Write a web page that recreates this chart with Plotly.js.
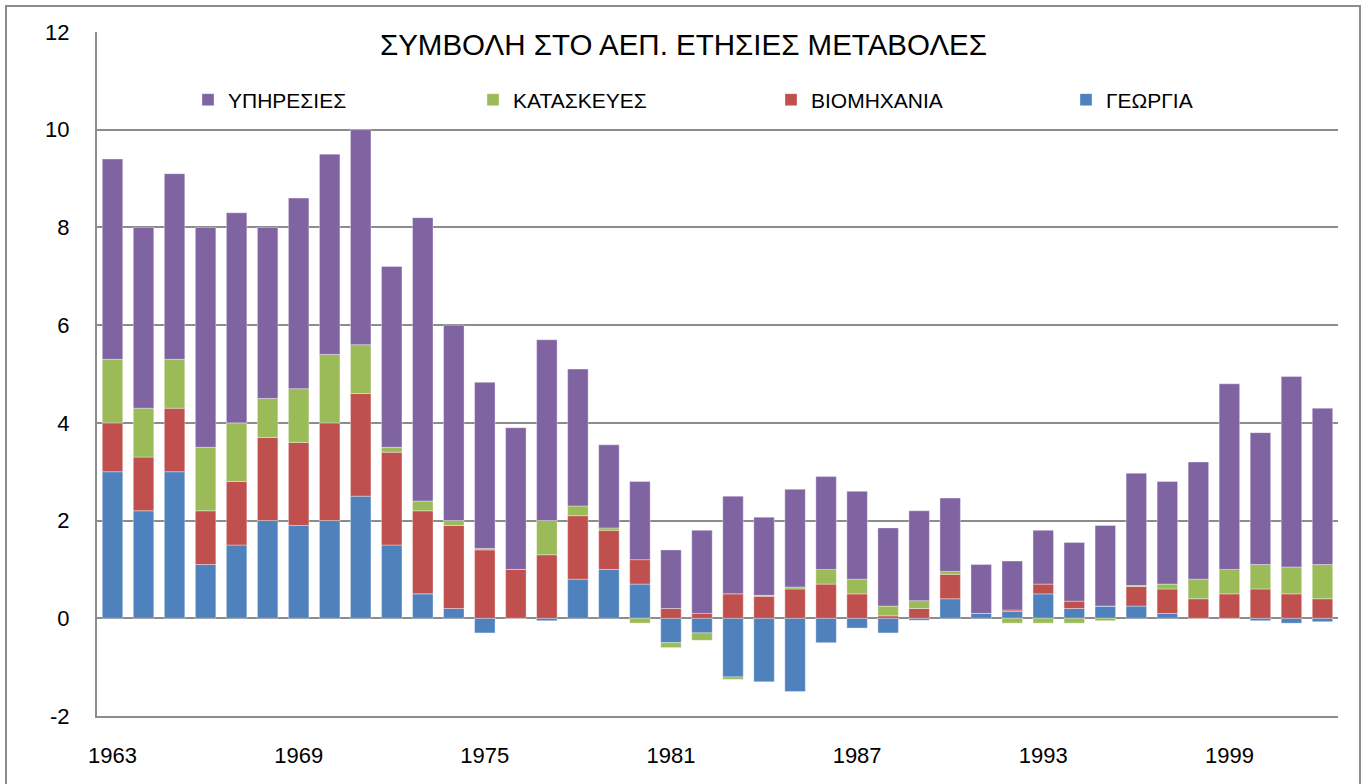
<!DOCTYPE html>
<html>
<head>
<meta charset="utf-8">
<script src="https://cdn.plot.ly/plotly-3.0.1.min.js"></script>
<style>html,body{margin:0;padding:0;background:#fff;}#chart{width:1367px;height:784px;}</style>
</head>
<body>
<div id="chart"></div>
<script>
const years = [1963,1964,1965,1966,1967,1968,1969,1970,1971,1972,
               1973,1974,1975,1976,1977,1978,1979,1980,1981,1982,
               1983,1984,1985,1986,1987,1988,1989,1990,1991,1992,
               1993,1994,1995,1996,1997,1998,1999,2000,2001,2002];
const tickYears = [1963,1969,1975,1981,1987,1993,1999];

const georgia = [3.0,2.2,3.0,1.1,1.5,2.0,1.9,2.0,2.5,1.5,
                 0.5,0.2,-0.3,0.0,-0.05,0.8,1.0,0.7,-0.5,-0.3,
                 -1.2,-1.3,-1.5,-0.5,-0.2,-0.3,-0.04,0.4,0.1,0.14,
                 0.5,0.2,0.25,0.25,0.1,0.0,0.0,-0.05,-0.1,-0.07];
const viomichania = [1.0,1.1,1.3,1.1,1.3,1.7,1.7,2.0,2.1,1.9,
                     1.7,1.7,1.4,1.0,1.3,1.3,0.8,0.5,0.2,0.1,
                     0.5,0.45,0.6,0.7,0.5,0.05,0.2,0.5,0.0,0.03,
                     0.2,0.15,0.0,0.4,0.5,0.4,0.5,0.6,0.5,0.4];
const kataskeves = [1.3,1.0,1.0,1.3,1.2,0.8,1.1,1.4,1.0,0.1,
                    0.2,0.1,0.03,0.0,0.7,0.2,0.05,-0.1,-0.1,-0.15,
                    -0.05,0.02,0.04,0.3,0.3,0.2,0.16,0.06,0.0,-0.1,
                    -0.1,-0.1,-0.05,0.02,0.1,0.4,0.5,0.5,0.55,0.7];
const ypiresies = [4.1,3.7,3.8,4.5,4.3,3.5,3.9,4.1,4.4,3.7,
                   5.8,4.0,3.4,2.9,3.7,2.8,1.7,1.6,1.2,1.7,
                   2.0,1.6,2.0,1.9,1.8,1.6,1.84,1.5,1.0,1.0,
                   1.1,1.2,1.65,2.3,2.1,2.4,3.8,2.7,3.9,3.2];

const seriesNames = ['ΓΕΩΡΓΙΑ','ΒΙΟΜΗΧΑΝΙΑ','ΚΑΤΑΣΚΕΥΕΣ','ΥΠΗΡΕΣΙΕΣ'];
const seriesData = [georgia, viomichania, kataskeves, ypiresies];
const colors = ['#4F81BD','#C0504D','#9BBB59','#8064A2'];
const legendIds = ['legend4','legend3','legend2','legend'];
// left edge (px) of each legend entry, reference order left→right: ΥΠΗΡΕΣΙΕΣ, ΚΑΤΑΣΚΕΥΕΣ, ΒΙΟΜΗΧΑΝΙΑ, ΓΕΩΡΓΙΑ
const legendLeftPx = {legend: 188, legend2: 473, legend3: 771, legend4: 1066};

const FONT = 'Liberation Sans, Arial, sans-serif';

const traces = seriesNames.map((n, i) => ({
  type: 'bar',
  name: n,
  x: years,
  y: seriesData[i],
  legend: legendIds[i],
  marker: {color: colors[i], line: {color: 'rgba(255,255,255,0.35)', width: 1}},
  hoverinfo: 'x+y+name'
}));

// plot area in pixels: x 97..1338, y 32..716
const L = 97, R = 1338, T = 32, B = 716;
const px = v => (v - L) / (R - L);
const py = v => (B - v) / (B - T);

function legendDef(id) {
  return {
    orientation: 'h',
    x: px(legendLeftPx[id]), xanchor: 'left',
    y: py(100), yanchor: 'middle',
    font: {family: FONT, size: 21, color: '#000000'},
    bgcolor: 'rgba(0,0,0,0)'
  };
}

const layout = {
  width: 1367, height: 784,
  margin: {l: L, r: 1367 - R, t: T, b: 784 - B, pad: 0},
  paper_bgcolor: '#ffffff', plot_bgcolor: '#ffffff',
  barmode: 'relative',
  bargap: 0.34,
  font: {family: FONT, color: '#000000', size: 22},
  title: {
    text: 'ΣΥΜΒΟΛΗ ΣΤΟ ΑΕΠ. ΕΤΗΣΙΕΣ ΜΕΤΑΒΟΛΕΣ',
    font: {family: FONT, size: 29.5, color: '#000000'},
    x: 0.5, xanchor: 'center', xref: 'container',
    y: 1 - 45 / 784, yanchor: 'middle', yref: 'container'
  },
  showlegend: true,
  legend: legendDef('legend'),
  legend2: legendDef('legend2'),
  legend3: legendDef('legend3'),
  legend4: legendDef('legend4'),
  xaxis: {
    type: 'linear',
    range: [1962.5, 2002.5],
    tickmode: 'array',
    tickvals: tickYears,
    ticktext: tickYears.map(String),
    showgrid: false, zeroline: false,
    showline: true, linecolor: '#8c8c8c', linewidth: 2,
    ticks: '',
    ticklabelstandoff: 19,
    tickfont: {family: FONT, size: 22, color: '#000000'},
    fixedrange: true
  },
  yaxis: {
    range: [-2, 12],
    tickmode: 'array',
    tickvals: [-2,0,2,4,6,8,10,12],
    ticktext: ['-2','0','2','4','6','8','10','12'],
    showgrid: true, gridcolor: '#8c8c8c', gridwidth: 2,
    zeroline: true, zerolinecolor: '#8c8c8c', zerolinewidth: 2,
    showline: true, linecolor: '#8c8c8c', linewidth: 2,
    ticks: '',
    ticklabelstandoff: 21,
    tickfont: {family: FONT, size: 22, color: '#000000'},
    fixedrange: true
  },
  shapes: [{
    type: 'rect', xref: 'paper', yref: 'paper', layer: 'above',
    x0: px(6), x1: px(1360), y0: py(830), y1: py(6),
    line: {color: '#8c8c8c', width: 2}, fillcolor: 'rgba(0,0,0,0)'
  }]
};

Plotly.newPlot('chart', traces, layout, {displayModeBar: false, staticPlot: true});
</script>
</body>
</html>
